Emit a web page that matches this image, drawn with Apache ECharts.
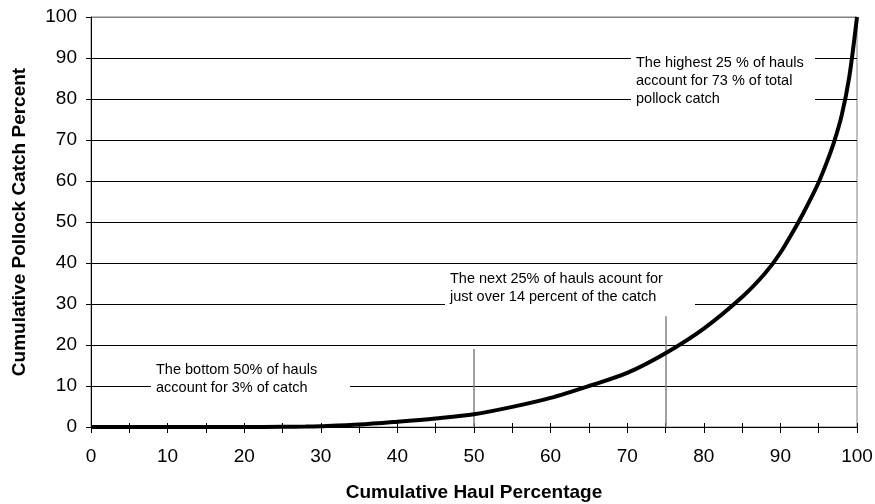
<!DOCTYPE html>
<html>
<head>
<meta charset="utf-8">
<script src="https://cdn.jsdelivr.net/npm/echarts@6/dist/echarts.min.js"></script>
<style>
  html, body { margin: 0; padding: 0; background: #fff; }
  #chart { width: 875px; height: 504px; }
</style>
</head>
<body>
<div id="chart"></div>
<script>
  // cumulative haul % vs cumulative pollock catch %
  var haulPct = [0, 5, 10, 15, 20, 25, 28, 30, 35, 40, 45, 50, 55, 60, 65, 70, 75, 80, 85, 88, 90, 92, 93, 94, 95, 96, 97, 98, 99, 100]
  var catchPct = [0, 0, 0, 0, 0, 0.05, 0.1, 0.2, 0.6, 1.3, 2.1, 3.1, 4.9, 7.1, 10, 13.2, 18, 24, 31.7, 37.5, 42.5, 48.8, 52.2, 55.8, 59.7, 64.3, 69.5, 76, 85.5, 100]

  // reference lines at 50% and 75% of hauls
  var markX = [50, 75]
  var markTop = [19, 27]

  var notes = [
    'The bottom 50% of hauls\naccount for 3% of catch',
    'The next 25% of hauls acount for\njust over 14 percent of the catch',
    'The highest 25 % of hauls\naccount for 73 % of total\npollock catch'
  ]

  var font = 'Liberation Sans, Arial, sans-serif'
  var chart = echarts.init(document.getElementById('chart'))

  var gridColors = []
  for (var i = 0; i < 10; i++) gridColors.push('#000')
  gridColors.push('#808080')

  function noteBox(left, top, w, h, text) {
    return {
      type: 'group',
      left: left,
      top: top,
      z: 100,
      children: [
        { type: 'rect', z: 100, shape: { x: 0, y: 0, width: w, height: h }, style: { fill: '#fff' } },
        { type: 'text', z: 101, x: 5, y: 2, style: { text: text, font: '14.5px ' + font, fill: '#000', lineHeight: 18 } }
      ]
    }
  }

  chart.setOption({
    animation: false,
    grid: {
      left: 91,
      right: 18,
      top: 17,
      bottom: 77,
      outerBoundsMode: 'none',
      containLabel: false,
      show: true,
      borderColor: '#808080',
      borderWidth: 1
    },
    xAxis: [
      {
        type: 'value',
        min: 0,
        max: 100,
        interval: 10,
        name: 'Cumulative Haul Percentage',
        nameLocation: 'middle',
        nameGap: 56,
        nameTextStyle: { fontFamily: font, fontSize: 19, fontWeight: 'bold', color: '#000' },
        axisLine: { lineStyle: { color: '#000', width: 1 } },
        axisTick: { length: 6, lineStyle: { color: '#000' } },
        minorTick: { show: true, splitNumber: 2, length: 6, lineStyle: { color: '#000' } },
        axisLabel: { fontFamily: font, fontSize: 19, color: '#000', margin: 20 },
        splitLine: { show: false }
      },
      {
        // same axis again, to make the ticks cross the line
        type: 'value',
        min: 0,
        max: 100,
        interval: 10,
        position: 'bottom',
        axisLine: { show: false },
        axisTick: { inside: true, length: 4, lineStyle: { color: '#000' } },
        minorTick: { show: true, splitNumber: 2, length: 4, lineStyle: { color: '#000' } },
        axisLabel: { show: false },
        splitLine: { show: false }
      }
    ],
    yAxis: {
      type: 'value',
      min: 0,
      max: 100,
      interval: 10,
      name: 'Cumulative Pollock Catch Percent',
      nameLocation: 'middle',
      nameGap: 62,
      nameTextStyle: { fontFamily: font, fontSize: 19, fontWeight: 'bold', color: '#000' },
      axisLine: { show: true, lineStyle: { color: '#000', width: 1 } },
      axisTick: { show: true, length: 5, lineStyle: { color: '#000' } },
      axisLabel: { fontFamily: font, fontSize: 19, color: '#000', margin: 14 },
      splitLine: { show: true, lineStyle: { color: gridColors, width: 1 } }
    },
    series: [
      {
        type: 'line',
        data: haulPct.map(function (x, i) { return [x, catchPct[i]] }),
        smooth: 0.3,
        showSymbol: false,
        symbol: 'none',
        clip: false,
        z: 5,
        lineStyle: { color: '#000', width: 4 },
        markLine: {
          silent: true,
          symbol: 'none',
          label: { show: false },
          lineStyle: { color: '#808080', width: 1.5, type: 'solid' },
          data: markX.map(function (x, i) {
            return [{ coord: [x, 0] }, { coord: [x, markTop[i]] }]
          })
        }
      }
    ],
    graphic: [
      noteBox(151, 359, 199, 38, notes[0]),
      noteBox(445, 268, 250, 40, notes[1]),
      noteBox(631, 52, 184, 58, notes[2])
    ]
  })
</script>
</body>
</html>
